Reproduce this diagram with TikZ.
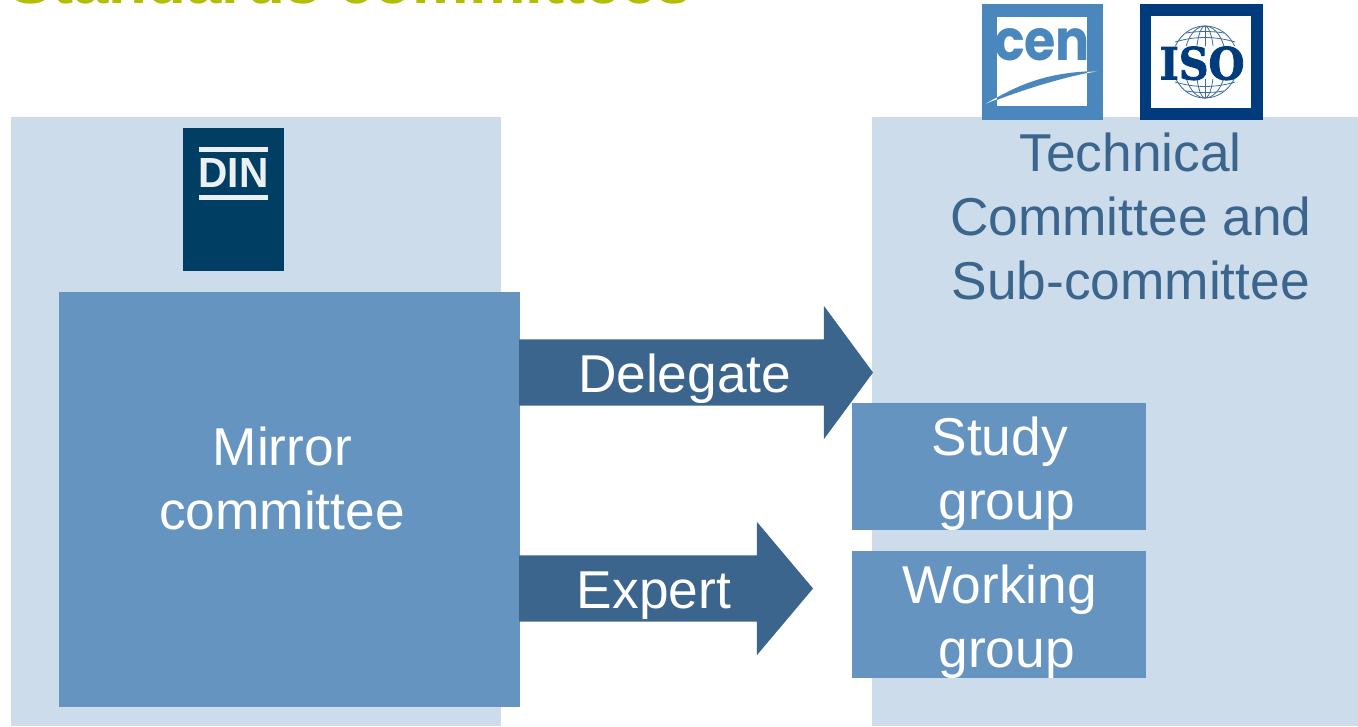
\documentclass[tikz,border=0pt]{standalone}
\usepackage{fontspec}
\setmainfont{Liberation Sans}
\newfontfamily\isofont[BoldFeatures={FakeBold=2}]{DejaVu Serif}
\newfontfamily\cenfont{Poppins}
\usetikzlibrary{shapes.arrows}
\definecolor{bgblue}{HTML}{CCDCEB}
\definecolor{boxblue}{HTML}{6694C1}
\definecolor{arrowblue}{HTML}{3B658C}
\definecolor{dinblue}{HTML}{003F63}
\definecolor{titlegreen}{HTML}{B5BD00}
\definecolor{cenblue}{HTML}{4A87BD}
\definecolor{isoblue}{HTML}{003C7D}
\tikzset{
  x=1pt,y=-1pt,
  panel/.style={fill=bgblue,draw=none,inner sep=0pt,outer sep=0pt},
  groupbox/.style={fill=boxblue,draw=none,inner sep=0pt,outer sep=0pt},
  lab/.style={anchor=base,inner sep=0pt,outer sep=0pt,font=\fontsize{53.3}{64}\selectfont},
  whitelab/.style={lab,text=white},
  darklab/.style={lab,text=arrowblue},
  blockarrow/.style={single arrow,fill=arrowblue,draw=none,inner xsep=0pt,inner ysep=33pt,outer sep=0pt,anchor=west,
    minimum width=133pt,single arrow head extend=33.5pt},
  logo/.style={inner sep=0pt,outer sep=0pt,draw=none},
}
\begin{document}
\begin{tikzpicture}
\useasboundingbox (0,0) rectangle (1358,726);
\clip (0,0) rectangle (1358,726);
% title (cut off by the top edge, as in the reference)
\node[anchor=base west,inner sep=0pt,text=titlegreen,font=\fontsize{63.6}{70}\selectfont\bfseries] (title) at (9.5,3) {Standards committees};
% panels
\node[panel,minimum width=490pt,minimum height=609pt] (left) at (256,421.5) {};
\node[panel,minimum width=486pt,minimum height=609pt] (right) at (1115,421.5) {};
% DIN logo
\node[logo,fill=dinblue,minimum width=101pt,minimum height=143pt] (din) at (233.5,199.5) {};
\fill[white!92!dinblue] (199,147) rectangle (268,151.5);
\fill[white!92!dinblue] (199,195) rectangle (268,199.5);
\node[anchor=base,inner sep=0pt,text=white!92!dinblue] (dintext) at (233.5,187)
  {\resizebox{70pt}{29pt}{\fontsize{40}{40}\selectfont\bfseries DIN}};
% CEN logo
\node[logo,fill=cenblue,minimum width=121pt,minimum height=116pt] (cen) at (1042.5,62) {};
\fill[white] (997,17) rectangle (1087,106);
\begin{scope}
  \clip (997,17) rectangle (1087,106);
  \node[anchor=base,inner sep=0pt,text=cenblue] (centext) at (1042,60)
    {\resizebox{96pt}{32pt}{\fontsize{60}{60}\cenfont\bfseries cen}};
\end{scope}
\fill[white] (986,103.5) .. controls (1020,84) and (1050,73) .. (1097,71.5)
  .. controls (1060,77) and (1025,88) .. (986,103.5) -- cycle;
\begin{scope}
  \clip (997,17) rectangle (1087,106);
  \fill[cenblue] (986,104) .. controls (1020,83) and (1050,72) .. (1097,71)
    .. controls (1060,78) and (1025,89) .. (986,104) -- cycle;
\end{scope}
% ISO logo
\node[logo,fill=isoblue,minimum width=123pt,minimum height=116pt] (iso) at (1201.5,62) {};
\fill[white] (1151,16) rectangle (1251,108);
\begin{scope}[isoblue!75!white,line width=.8pt]
  \clip (1160,24) rectangle (1250,46) (1160,79) rectangle (1250,100);
  \draw (1205,62) ellipse [x radius=33,y radius=36];
  \draw (1205,62) ellipse [x radius=21,y radius=36];
  \draw (1205,62) ellipse [x radius=9,y radius=36];
  \draw (1205,26) -- (1205,98);
  \draw (1175,42) .. controls (1195,36) and (1215,36) .. (1235,42);
  \draw (1186,33) .. controls (1198,31) and (1212,31) .. (1224,33);
  \draw (1175,82) .. controls (1195,88) and (1215,88) .. (1235,82);
  \draw (1186,91) .. controls (1198,93) and (1212,93) .. (1224,91);
\end{scope}
\node[anchor=base,inner sep=0pt,text=isoblue] (isotext) at (1202,79.5)
  {\resizebox{85pt}{33pt}{\isofont\bfseries ISO}};
% boxes
\node[groupbox,minimum width=461pt,minimum height=415pt] (mirror) at (289.5,499.5) {};
\node[groupbox,minimum width=294pt,minimum height=127pt] (study) at (999,466.5) {};
\node[groupbox,minimum width=294pt,minimum height=127pt] (working) at (999,614.5) {};
% block arrows
\node[blockarrow,minimum height=354pt,single arrow tip angle=107.2] (delegate) at (519,372.5) {};
\node[blockarrow,minimum height=294pt,single arrow tip angle=99.8] (expert) at (519,588.5) {};
% labels
\node[whitelab] (l1) at (684.7,392) {Delegate};
\node[whitelab] (l2) at (654,608) {Expert};
\node[whitelab] (l3) at (282.3,465) {Mirror};
\node[whitelab] (l4) at (282,529) {committee};
\node[whitelab] (l5) at (999.7,455) {Study};
\node[whitelab] (l6) at (1006.7,519) {group};
\node[whitelab] (l7) at (999.7,603) {Working};
\node[whitelab] (l8) at (1006.7,667) {group};
\node[darklab] (l9) at (1130.7,171) {Technical};
\node[darklab] (l10) at (1130.7,235) {Committee and};
\node[darklab] (l11) at (1130.7,299) {Sub-committee};
\end{tikzpicture}
\end{document}
